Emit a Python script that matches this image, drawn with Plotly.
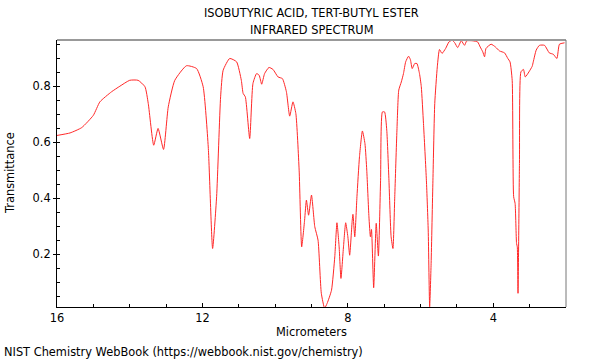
import plotly.graph_objects as go

wavelength = [16.00, 15.64, 15.32, 15.00, 14.82, 14.50, 14.27, 14.00, 13.77, 13.58, 13.49, 13.34, 13.22, 13.07, 12.94,
              12.76, 12.44, 12.16, 11.98, 11.84, 11.72, 11.61, 11.50, 11.43, 11.25, 11.06, 10.93, 10.88, 10.82, 10.70,
              10.61, 10.51, 10.44, 10.37, 10.29, 10.17, 10.06, 9.92, 9.80, 9.69, 9.60, 9.51, 9.43, 9.34, 9.27,
              9.19, 9.14, 9.08, 9.00, 8.91, 8.82, 8.73, 8.64, 8.57, 8.45, 8.36, 8.30, 8.24, 8.19, 8.12,
              8.06, 8.00, 7.95, 7.88, 7.86, 7.81, 7.75, 7.68, 7.60, 7.53, 7.48, 7.42, 7.38, 7.35, 7.29,
              7.22, 7.16, 7.10, 7.05, 6.99, 6.93, 6.87, 6.81, 6.76, 6.71, 6.65, 6.60, 6.53, 6.47, 6.41,
              6.33, 6.28, 6.23, 6.16, 6.10, 6.03, 5.98, 5.92, 5.84, 5.79, 5.75, 5.71, 5.66, 5.61, 5.54,
              5.48, 5.41, 5.31, 5.22, 5.13, 5.06, 4.98, 4.88, 4.79, 4.73, 4.56, 4.43, 4.36, 4.29, 4.24,
              4.20, 4.06, 3.94, 3.83, 3.69, 3.60, 3.54, 3.48, 3.44, 3.40, 3.36, 3.34, 3.32, 3.28, 3.24,
              3.17, 3.12, 3.02, 2.93, 2.90, 2.82, 2.73, 2.59, 2.46, 2.35, 2.25, 2.18, 2.04]
transmittance = [0.624, 0.633, 0.652, 0.696, 0.744, 0.780, 0.800, 0.821, 0.821, 0.798, 0.738, 0.589, 0.649, 0.574, 0.726,
                 0.821, 0.873, 0.863, 0.798, 0.583, 0.220, 0.405, 0.762, 0.857, 0.899, 0.887, 0.821, 0.774, 0.762, 0.613,
                 0.810, 0.845, 0.839, 0.807, 0.845, 0.867, 0.860, 0.833, 0.827, 0.780, 0.693, 0.744, 0.702, 0.500, 0.226,
                 0.321, 0.393, 0.339, 0.411, 0.298, 0.250, 0.060, 0.007, 0.024, 0.071, 0.190, 0.312, 0.226, 0.113, 0.226,
                 0.312, 0.262, 0.196, 0.321, 0.342, 0.262, 0.405, 0.548, 0.640, 0.595, 0.500, 0.333, 0.262, 0.288, 0.080,
                 0.310, 0.193, 0.464, 0.708, 0.708, 0.643, 0.464, 0.262, 0.220, 0.405, 0.643, 0.786, 0.815, 0.845, 0.887,
                 0.907, 0.895, 0.863, 0.881, 0.881, 0.845, 0.798, 0.667, 0.464, 0.286, 0.012, 0.167, 0.464, 0.738, 0.869,
                 0.931, 0.917, 0.935, 0.958, 0.964, 0.955, 0.938, 0.962, 0.946, 0.962, 0.962, 0.958, 0.940, 0.923, 0.905,
                 0.935, 0.950, 0.940, 0.926, 0.919, 0.899, 0.887, 0.821, 0.405, 0.381, 0.238, 0.226, 0.060, 0.524, 0.851,
                 0.860, 0.833, 0.851, 0.871, 0.887, 0.929, 0.946, 0.946, 0.919, 0.914, 0.899, 0.950, 0.955]

x_tickvals = [16, 12, 8, 4]
y_tickvals = [0.2, 0.4, 0.6, 0.8]

FONT = "DejaVu Sans"
FS = 11.4
L, R, T, B = 57, 566, 40, 307
PW, PH = R - L, B - T


def px(x):
    return (x - L) / PW


def py(y):
    return (B - y) / PH


def ann(text, x, y, xanchor="center", textangle=0):
    return dict(text=text, xref="paper", yref="paper", x=px(x), y=py(y), xanchor=xanchor,
                yanchor="middle", showarrow=False, textangle=textangle,
                font=dict(family=FONT, size=FS, color="black"))


fig = go.Figure()
fig.add_trace(go.Scatter(
    x=wavelength, y=transmittance, mode="lines",
    line=dict(color="rgb(255,40,40)", width=1, shape="spline", smoothing=0.5),
    hoverinfo="skip", showlegend=False,
))

fig.update_layout(
    width=600, height=360,
    margin=dict(l=L, r=600 - R, t=T, b=360 - B, autoexpand=False),
    paper_bgcolor="white", plot_bgcolor="white",
    font=dict(family=FONT, size=FS, color="black"),
    xaxis=dict(range=[16, 2], tickvals=x_tickvals, ticktext=[str(v) for v in x_tickvals],
               ticks="inside", ticklen=4, tickcolor="black", showgrid=False, zeroline=False,
               showline=True, linecolor="black", linewidth=1, automargin=False,
               minor=dict(dtick=1, tick0=0, ticks="inside", ticklen=3, tickcolor="black"),
               tickfont=dict(family=FONT, size=FS)),
    yaxis=dict(range=[0.011, 0.965], tickvals=y_tickvals, ticktext=[f"{v:.1f}" for v in y_tickvals],
               ticks="outside", ticklen=3, tickcolor="black", showgrid=False, zeroline=False,
               showline=True, linecolor="black", linewidth=1, automargin=False,
               minor=dict(dtick=0.05, tick0=0, ticks="inside", ticklen=3, tickcolor="black"),
               tickfont=dict(family=FONT, size=FS)),
    shapes=[
        dict(type="line", xref="paper", yref="paper", x0=0, x1=1, y0=1, y1=1,
             line=dict(color="#999999", width=2)),
        dict(type="line", xref="paper", yref="paper", x0=1, x1=1, y0=0, y1=1,
             line=dict(color="#777777", width=1)),
    ],
    annotations=[
        ann("ISOBUTYRIC ACID, TERT-BUTYL ESTER", 311.5, 13),
        ann("INFRARED SPECTRUM", 311.5, 30),
        ann("Micrometers", 311.5, 332),
        ann("Transmittance", 10, 173, textangle=-90),
        ann("NIST Chemistry WebBook (https://webbook.nist.gov/chemistry)", 2, 352, xanchor="left"),
    ],
)

fig.write_html("out.html", config={"displayModeBar": False},
               post_script="document.body.style.margin='0';document.body.style.padding='0';")
